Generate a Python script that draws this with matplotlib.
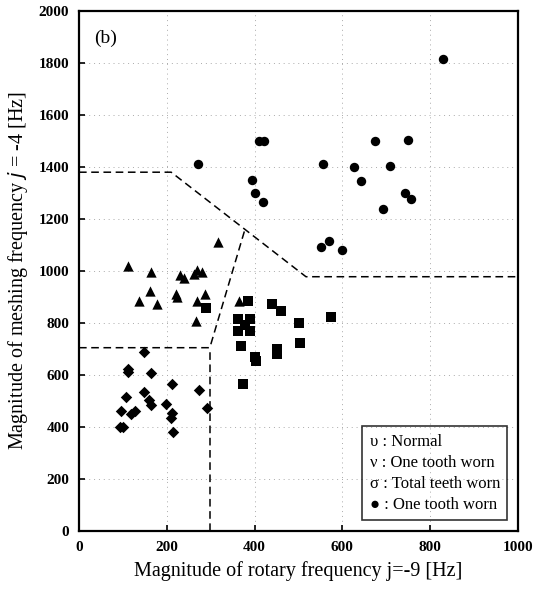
import matplotlib
matplotlib.use("Agg")
import matplotlib.pyplot as plt
from matplotlib.lines import Line2D

# ---- data ----
normal_x = [149, 112, 112, 165, 211, 273, 149, 108, 160, 165, 198, 211, 209, 95, 118, 128, 291, 93, 100, 215]
normal_y = [687, 625, 610, 607, 565, 542, 533, 517, 505, 485, 488, 453, 434, 463, 450, 462, 474, 401, 401, 382]

one_worn_x = [112, 163, 230, 240, 268, 262, 281, 316, 162, 137, 178, 221, 223, 268, 287, 266, 365]
one_worn_y = [1019, 998, 985, 974, 1004, 988, 997, 1113, 925, 886, 873, 911, 900, 885, 911, 808, 885]

total_worn_x = [289, 384, 439, 461, 501, 575, 370, 401, 404, 450, 450, 503, 374,
                363, 390, 363, 390, 377]
total_worn_y = [859, 885, 875, 847, 799, 823, 712, 670, 655, 700, 680, 724, 564,
                815, 815, 769, 769, 792]

one_worn2_x = [830, 410, 422, 674, 749, 556, 627, 709, 642, 393, 402, 420, 742, 756, 692, 551, 569, 600, 270]
one_worn2_y = [1814, 1500, 1500, 1500, 1503, 1413, 1400, 1403, 1347, 1350, 1301, 1267, 1301, 1277, 1237, 1092, 1115, 1081, 1410]

# decision boundaries
bound1_x = [0, 210, 517, 1000]
bound1_y = [1380, 1380, 978, 978]
bound2_x = [0, 298, 378]
bound2_y = [705, 705, 1160]
bound3_x = [298, 298]
bound3_y = [0, 705]

legend_labels = ["\u03c5 : Normal", "\u03bd : One tooth worn", "\u03c3 : Total teeth worn", "\u25cf : One tooth worn"]
x_ticks = [0, 200, 400, 600, 800, 1000]
y_ticks = [0, 200, 400, 600, 800, 1000, 1200, 1400, 1600, 1800, 2000]

plt.rcParams['font.family'] = ['Liberation Serif', 'DejaVu Serif']

fig = plt.figure(figsize=(5.45, 5.96), dpi=100)
ax = fig.add_axes([79/545, 1-531/596, (518-79)/545, (531-11)/596])

ax.set_xlim(0, 1000)
ax.set_ylim(0, 2000)
ax.set_xticks(x_ticks)
ax.set_yticks(y_ticks)
ax.grid(True, linestyle=(0, (1, 4)), color='#aaaaaa', linewidth=0.7)
ax.set_axisbelow(True)

ax.scatter(normal_x, normal_y, marker='D', s=34, color='black', zorder=3, linewidths=0)
ax.scatter(one_worn_x, one_worn_y, marker='^', s=55, color='black', zorder=3, linewidths=0)
ax.scatter(total_worn_x, total_worn_y, marker='s', s=62, color='black', zorder=3, linewidths=0)
ax.scatter(one_worn2_x, one_worn2_y, marker='o', s=46, color='black', zorder=3, linewidths=0)

for bx, by in [(bound1_x, bound1_y), (bound2_x, bound2_y), (bound3_x, bound3_y)]:
    ax.plot(bx, by, color='black', linestyle=(0, (5, 3)), linewidth=1.1, zorder=2)

for s in ax.spines.values():
    s.set_linewidth(1.6)
ax.tick_params(direction='in', length=4, width=1.2, labelsize=11, pad=7)
for lbl in ax.get_xticklabels() + ax.get_yticklabels():
    lbl.set_fontweight('bold')

ax.set_xlabel("Magnitude of rotary frequency j=-9 [Hz]", fontsize=14.5, labelpad=5)
ax.set_ylabel("Magnitude of meshing frequency $\\mathit{j}$ = -4 [Hz]", fontsize=14.5, labelpad=6)

ax.text(0.035, 0.965, "(b)", transform=ax.transAxes, fontsize=14, va='top', ha='left')

handles = [Line2D([], [], linestyle='none') for _ in legend_labels]
leg = ax.legend(handles, legend_labels, loc='lower right', handlelength=0, handletextpad=0,
                fontsize=12, frameon=True, fancybox=False, edgecolor='black',
                facecolor='none', borderpad=0.45, labelspacing=0.3,
                bbox_to_anchor=(0.995, 0.005))
leg.get_frame().set_linewidth(1.2)

fig.savefig("out.png", dpi=100)
